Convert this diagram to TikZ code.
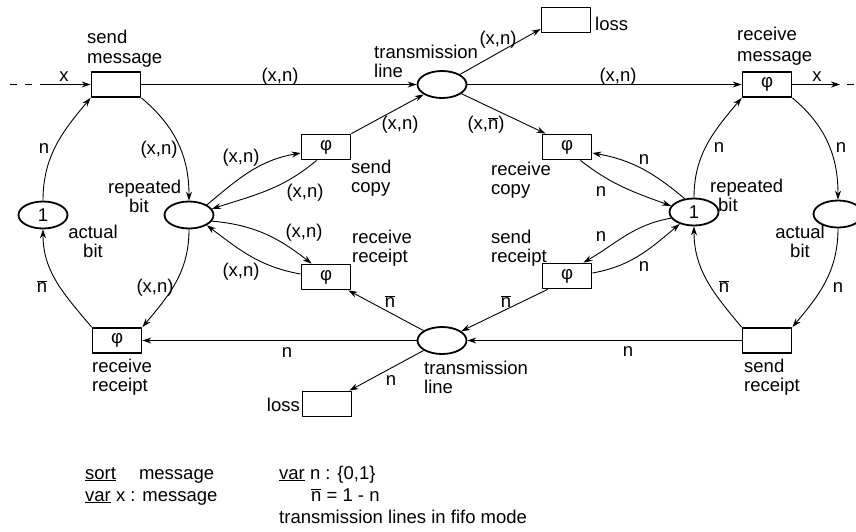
\documentclass[tikz,border=0pt]{standalone}
\usepackage{fontspec}
\setmainfont{Liberation Sans}
\usetikzlibrary{arrows.meta,shapes.geometric}
\newcommand{\nbar}{$\overline{\mbox{n}}$}
\begin{document}
\begin{tikzpicture}[x=1pt, y=1pt, >={Stealth[length=9pt,width=6pt]}, line join=round,
    font=\fontsize{18.5}{19}\selectfont,
    trans/.style={draw, line width=1.8pt, minimum width=49pt, minimum height=25pt, inner sep=0pt},
    place/.style={draw, ellipse, line width=1.8pt, minimum width=49pt, minimum height=27pt, inner sep=0pt},
    lbl/.style={inner sep=0pt, align=left, anchor=north west},
    ins/.style={inner sep=0pt},
    arc/.style={->, line width=0.9pt},
    open/.style={line width=0.9pt, dash pattern=on 7pt off 8pt}]
  \useasboundingbox (0,0) rectangle (856,-531);
  % transitions
  \node[trans] (sm) at (116,-84.5) {};
  \node[trans] (losst) at (566,-20) {};
  \node[trans] (rm) at (767,-84.5) {φ};
  \node[trans] (sc) at (326,-147) {φ};
  \node[trans] (rc) at (567,-147) {φ};
  \node[trans] (rrm) at (326,-277) {φ};
  \node[trans] (srm) at (567,-276) {φ};
  \node[trans] (rrl) at (117,-340.5) {φ};
  \node[trans] (srr) at (767,-340.5) {};
  \node[trans] (lossb) at (327,-404) {};
  % places
  \node[place] (tlt) at (442,-84.5) {};
  \node[place] (tlb) at (442,-340.5) {};
  \node[place] (abl) at (43,-215) {1};
  \node[place] (rbl) at (189,-215) {};
  \node[place] (rbr) at (694,-212) {1};
  \node[place] (abr) at (838,-214) {};
  % names
  \node[lbl] (smt) at (87,-30) {send\\[1pt]message};
  \node[lbl] (tltt) at (374,-45) {transmission\\line};
  \node[ins, anchor=base west] (lossta) at (595,-30) {loss};
  \node[lbl] (rmt) at (737,-27) {receive\\[2pt]message};
  \node[lbl] (rbrt) at (710,-179) {repeated\\\hspace*{8pt}bit};
  \node[lbl, align=center, anchor=north] (abrt) at (800,-225) {actual\\bit};
  \node[lbl] (srrt) at (744,-359) {send\\receipt};
  \node[lbl] (tlbt) at (424,-361) {transmission\\line};
  \node[ins, anchor=base east] (lossba) at (300,-411) {loss};
  \node[lbl] (rrlt) at (92,-359) {receive\\receipt};
  \node[lbl, align=center, anchor=north] (ablt) at (93,-225) {actual\\bit};
  \node[lbl] (rblt) at (108,-180) {repeated\\\hspace*{21pt}bit};
  \node[lbl] (sct) at (351,-160) {send\\copy};
  \node[lbl] (rct) at (491,-162) {receive\\copy};
  \node[lbl] (rrmt) at (352,-230) {receive\\receipt};
  \node[lbl] (srmt) at (491,-230) {send\\receipt};
  % message line
  \coordinate (inl) at (10,-84.5);
  \coordinate (inr) at (43,-84.5);
  \coordinate (outl) at (840,-84.5);
  \coordinate (outr) at (847,-84.5);
  \coordinate (outx) at (860,-84.5);
  \draw[open] (inl) -- (inr);
  \draw[arc] (inr) -- (sm);
  \draw[arc] (sm) -- (tlt);
  \draw[arc] (tlt) -- (rm);
  \draw[arc] (rm) -- (outl);
  \draw[open] (outr) -- (outx);
  \draw[arc] (tlt) -- ([yshift=-9pt]losst.west);
  \draw[arc] (sc.north east) -- (tlt);
  \draw[arc] (tlt) -- ([xshift=4pt]rc.north west);
  % receipt line
  \draw[arc] (srr) -- (tlb);
  \draw[arc] (tlb) -- (rrl);
  \draw[arc] (tlb) -- ([xshift=-3pt]lossb.north east);
  \draw[arc] ([xshift=6pt]srm.south west) -- (tlb);
  \draw[arc] (tlb) -- ([xshift=-3pt]rrm.south east);
  % sender
  \draw[arc] (abl.north) to[out=90,in=-130] (sm.south west);
  \draw[arc] (sm.south east) to[out=-40,in=90] (rbl.north);
  \draw[arc] (rbl.south) to[out=-90,in=50] (rrl.north east);
  \draw[arc] (rrl.north west) to[out=130,in=-90] (abl.south);
  \draw[arc] (rbl.north east) to[out=40,in=190] ([yshift=-6pt]sc.west);
  \draw[arc] (sc.-125) to[out=-140,in=18] (rbl.15);
  \draw[arc] (rbl.-15) to[out=-5,in=142] ([xshift=11pt]rrm.north west);
  \draw[arc] ([yshift=3pt]rrm.west) to[out=170,in=-37] (rbl.-30);
  % receiver
  \draw[arc] (rbr.north) to[out=90,in=-130] (rm.south west);
  \draw[arc] (rm.south east) to[out=-40,in=90] (abr.north);
  \draw[arc] (abr.south) to[out=-90,in=50] (srr.north east);
  \draw[arc] (srr.north west) to[out=130,in=-90] (rbr.south);
  \draw[arc] (rbr.125) to[out=140,in=-10] ([yshift=-6pt]rc.east);
  \draw[arc] (rc.-45) to[out=-38,in=160] (rbr.165);
  \draw[arc] (rbr.-165) to[out=190,in=30] ([xshift=-9pt]srm.north east);
  \draw[arc] ([yshift=3pt]srm.east) to[out=10,in=-140] (rbr.-140);
  % inscriptions
  \node[ins] (xa) at (64,-77) {x};
  \node[ins] (xb) at (817,-77) {x};
  \node[ins] (xna) at (280,-77) {(x,n)};
  \node[ins] (xnb) at (618,-77) {(x,n)};
  \node[ins] (xnc) at (498,-40) {(x,n)};
  \node[ins] (xnd) at (400,-125) {(x,n)};
  \node[ins] (xne) at (486,-125) {(x,\nbar)};
  \node[ins] (na) at (44,-149) {n};
  \node[ins] (xnf) at (159,-150) {(x,n)};
  \node[ins] (xng) at (155,-288) {(x,n)};
  \node[ins] (nba) at (42,-287) {\nbar};
  \node[ins] (xnh) at (241,-158) {(x,n)};
  \node[ins] (xni) at (305,-193) {(x,n)};
  \node[ins] (xnj) at (304,-233) {(x,n)};
  \node[ins] (xnk) at (241,-272) {(x,n)};
  \node[ins] (nbb) at (390,-302) {\nbar};
  \node[ins] (nbc) at (506,-302) {\nbar};
  \node[ins] (nb) at (287,-353) {n};
  \node[ins] (nc) at (628,-352) {n};
  \node[ins] (nd) at (391,-381) {n};
  \node[ins] (ne) at (644,-160) {n};
  \node[ins] (nf) at (601,-192) {n};
  \node[ins] (ng) at (601,-237) {n};
  \node[ins] (nh) at (644,-267) {n};
  \node[ins] (ni) at (719,-148) {n};
  \node[ins] (nj) at (841,-148) {n};
  \node[ins] (nk) at (838,-288) {n};
  \node[ins] (nbd) at (724,-287) {\nbar};
  % declarations
  \node[ins, anchor=base west] (sortm) at (85,-479) {\underline{sort}\hspace{23pt}message};
  \node[ins, anchor=base west] (varx) at (85,-501) {\underline{var} x : message};
  \node[ins, anchor=base west] (varn) at (279,-479) {\underline{var} n : \{0,1\}};
  \node[ins, anchor=base west] (neg) at (311,-501) {\nbar{} = 1 - n};
  \node[ins, anchor=base west] (fifo) at (279,-523) {transmission lines in fifo mode};
\end{tikzpicture}
\end{document}
